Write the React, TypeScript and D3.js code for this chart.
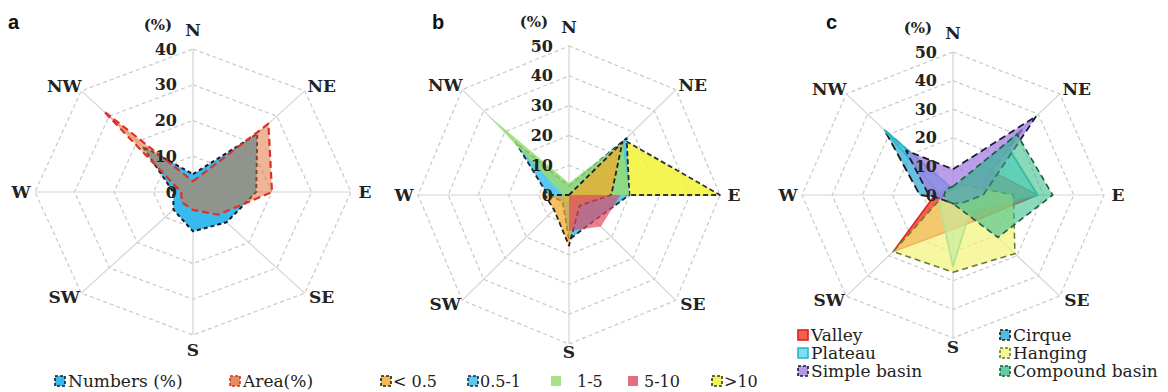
import React from "react";
import * as d3 from "d3";

const directions = ["N", "NE", "E", "SE", "S", "SW", "W", "NW"];
const ticksA = [0, 10, 20, 30, 40];
const ticksB = [0, 10, 20, 30, 40, 50];
const ticksC = [0, 10, 20, 30, 40, 50];

// a: share of numbers / area per aspect (%)
const numbersPct = [5, 23, 16, 12, 11, 7, 5, 18];
const areaPct = [3, 27, 20, 9, 5, 4, 3, 32];

// b: size classes
const sizeLabels = ["< 0.5", "0.5-1", "1-5", "5-10", ">10"];
const sizeLt05 = [0, 25, 14, 5, 17, 7, 8, 0];
const size05to1 = [3, 27, 20, 12, 15, 3, 7, 25];
const size1to5 = [4, 25, 20, 3, 3, 2, 2, 38];
const size5to10 = [0, 0, 17, 15, 12, 0, 0, 0];
const sizeGt10 = [0, 26, 50, 0, 0, 0, 0, 0];

// c: types
const typeLabels = ["Valley", "Cirque", "Plateau", "Hanging", "Simple basin", "Compound basin"];
const valley = [2, 14, 28, 12, 12, 28, 6, 3];
const cirque = [2, 33, 7, 5, 3, 2, 11, 32];
const plateau = [2, 25, 28, 8, 25, 6, 4, 32];
const hanging = [2, 5, 20, 29, 27, 28, 3, 2];
const simpleBasin = [9, 39, 10, 4, 3, 3, 8, 22];
const compoundBasin = [3, 30, 33, 21, 3, 3, 3, 3];

type Series = {
  name: string;
  values: number[];
  fill: string;
  opacity: number;
  stroke: string;
  dash: string;
  width: number;
};

const seriesA: Series[] = [
  { name: "Numbers (%)", values: numbersPct, fill: "#38bbec", opacity: 1, stroke: "#1a1a2a", dash: "4,3", width: 2 },
  { name: "Area(%)", values: areaPct, fill: "#e07136", opacity: 0.52, stroke: "#e0302a", dash: "7,4", width: 2.2 },
];

// legend order
const seriesB: Series[] = [
  { name: sizeLabels[0], values: sizeLt05, fill: "#f2a828", opacity: 0.72, stroke: "#222", dash: "5,3", width: 1.8 },
  { name: sizeLabels[1], values: size05to1, fill: "#3cc0ee", opacity: 0.85, stroke: "#1a2a3a", dash: "5,3", width: 1.8 },
  { name: sizeLabels[2], values: size1to5, fill: "#9adc74", opacity: 0.85, stroke: "none", dash: "", width: 0 },
  { name: sizeLabels[3], values: size5to10, fill: "#e04862", opacity: 0.7, stroke: "none", dash: "", width: 0 },
  { name: sizeLabels[4], values: sizeGt10, fill: "#f2f236", opacity: 0.85, stroke: "#333", dash: "5,3", width: 1.8 },
];
// drawing order, bottom to top
const drawB = [seriesB[4], seriesB[1], seriesB[2], seriesB[0], seriesB[3]];

const seriesC: Series[] = [
  { name: typeLabels[0], values: valley, fill: "#f03a22", opacity: 0.8, stroke: "#e02020", dash: "", width: 1.5 },
  { name: typeLabels[1], values: cirque, fill: "#2aa6d6", opacity: 0.7, stroke: "#1a1a1a", dash: "8,4", width: 1.8 },
  { name: typeLabels[2], values: plateau, fill: "#5ad4f4", opacity: 0.6, stroke: "#2cb8c4", dash: "", width: 1.8 },
  { name: typeLabels[3], values: hanging, fill: "#f4f47a", opacity: 0.7, stroke: "#6a7a30", dash: "6,4", width: 1.6 },
  { name: typeLabels[4], values: simpleBasin, fill: "#a47ee2", opacity: 0.75, stroke: "#1a1a3a", dash: "7,4", width: 1.8 },
  { name: typeLabels[5], values: compoundBasin, fill: "#3cc08c", opacity: 0.6, stroke: "#1f5a3a", dash: "6,4", width: 1.6 },
];

const serif = "'DejaVu Serif', serif";

type PanelProps = {
  letter: string;
  letterX: number;
  cx: number;
  cy: number;
  rx: number;
  ry: number;
  ticks: number[];
  series: Series[];
  sGap: number;
};

function Radar({ letter, letterX, cx, cy, rx, ry, ticks, series, sGap }: PanelProps) {
  const max = ticks[ticks.length - 1];
  const sx = d3.scaleLinear().domain([0, max]).range([0, rx]);
  const sy = d3.scaleLinear().domain([0, max]).range([0, ry]);
  const angle = d3.scaleLinear().domain([0, directions.length]).range([0, 2 * Math.PI]);
  const pt = (v: number, i: number): [number, number] => [
    cx + sx(v) * Math.sin(angle(i)),
    cy - sy(v) * Math.cos(angle(i)),
  ];
  const poly = d3.line().curve(d3.curveLinearClosed);

  const labelOffsets: Record<string, [number, number]> = {
    N: [0, -19],
    NE: [17, -5],
    E: [14, 0],
    SE: [17, 4],
    S: [0, sGap],
    SW: [-17, 4],
    W: [-14, 0],
    NW: [-17, -5],
  };

  return (
    <g>
      <text x={letterX} y={29} fontFamily="'Liberation Sans', Arial, sans-serif" fontWeight="bold" fontSize={20} fill="#111">
        {letter}
      </text>
      {ticks.slice(1).map((t) => (
        <path
          key={"ring" + t}
          d={poly(directions.map((_, i) => pt(t, i))) || ""}
          fill="none"
          stroke="#c9c9c9"
          strokeWidth={1.2}
          strokeDasharray="4,3"
        />
      ))}
      {directions.map((d, i) => {
        const [x, y] = pt(max, i);
        return <line key={"sp" + d} x1={cx} y1={cy} x2={x} y2={y} stroke="#d4d4d4" strokeWidth={1.2} />;
      })}
      {series.map((s) => (
        <path
          key={s.name}
          d={poly(s.values.map((v, i) => pt(v, i))) || ""}
          fill={s.fill}
          fillOpacity={s.opacity}
          stroke={s.stroke}
          strokeWidth={s.width}
          strokeDasharray={s.dash || undefined}
          strokeLinejoin="round"
        />
      ))}
      {ticks.map((t) => (
        <text
          key={"tk" + t}
          x={cx - 16}
          y={cy - sy(t)}
          textAnchor="end"
          dominantBaseline="central"
          fontFamily={serif}
          fontWeight="bold"
          fontSize={16}
          fill="#222"
        >
          {t}
        </text>
      ))}
      <text x={cx - 35} y={cy - ry - 24} textAnchor="middle" dominantBaseline="central" fontFamily={serif} fontWeight="bold" fontSize={15} fill="#222">
        (%)
      </text>
      {directions.map((d, i) => {
        const [x, y] = pt(max, i);
        const [ox, oy] = labelOffsets[d];
        return (
          <text
            key={"lb" + d}
            x={x + ox}
            y={y + oy}
            textAnchor="middle"
            dominantBaseline="central"
            fontFamily={serif}
            fontWeight="bold"
            fontSize={17}
            fill="#222"
          >
            {d}
          </text>
        );
      })}
    </g>
  );
}

function LegendItem({ x, y, s, fontSize = 17, gap = 13 }: { x: number; y: number; s: Series; fontSize?: number; gap?: number }) {
  return (
    <g>
      <rect
        x={x}
        y={y - 5}
        width={10}
        height={10}
        fill={s.fill}
        fillOpacity={Math.max(s.opacity, 0.8)}
        stroke={s.stroke === "none" ? "none" : s.stroke}
        strokeWidth={1.6}
        strokeDasharray={s.dash ? "3,2" : undefined}
      />
      <text x={x + gap} y={y} dominantBaseline="central" fontFamily={serif} fontSize={fontSize} fill="#222">
        {s.name}
      </text>
    </g>
  );
}

export default function App() {
  const legendY = 381;
  const bLegendX = [381, 468, 551, 628, 712];
  const bLegendGap = [12, 12, 26, 16, 12];
  const cLegend: [number, number][] = [
    [798, 335],
    [1000, 335],
    [798, 353],
    [1000, 353],
    [798, 371],
    [1000, 371],
  ];
  return (
    <svg width={1168} height={392} style={{ position: "absolute", left: 0, top: 0, background: "#fff" }}>
      <Radar letter="a" letterX={8} cx={193} cy={192} rx={158} ry={143} ticks={ticksA} series={seriesA} sGap={15} />
      <Radar letter="b" letterX={432} cx={569} cy={195} rx={151} ry={149} ticks={ticksB} series={drawB} sGap={8} />
      <Radar letter="c" letterX={826} cx={953} cy={195} rx={151} ry={143} ticks={ticksC} series={seriesC} sGap={9} />

      <LegendItem x={55} y={legendY} s={seriesA[0]} />
      <LegendItem x={230} y={legendY} s={seriesA[1]} />
      {seriesB.map((s, i) => (
        <LegendItem key={s.name} x={bLegendX[i]} y={legendY} s={s} fontSize={16} gap={bLegendGap[i]} />
      ))}
      {seriesC.map((s, i) => (
        <LegendItem key={s.name} x={cLegend[i][0]} y={cLegend[i][1]} s={s} />
      ))}
    </svg>
  );
}
